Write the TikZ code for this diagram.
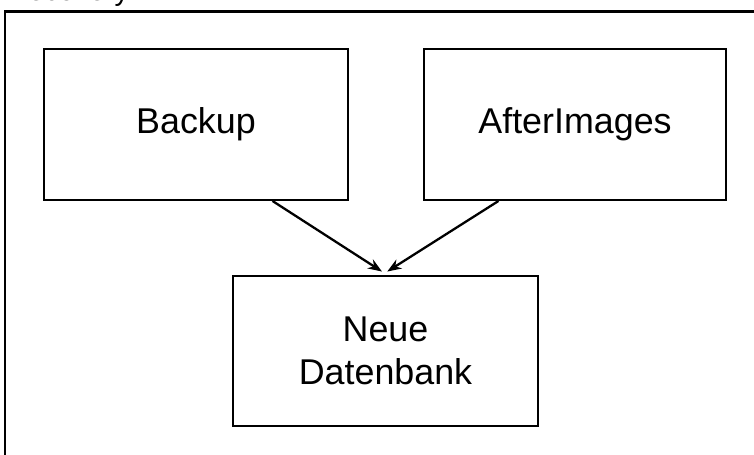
\documentclass[tikz,border=0pt]{standalone}
\usepackage{fontspec}
\setmainfont{Liberation Sans}
\usetikzlibrary{arrows.meta}

\tikzset{
    dbbox/.style={draw=black, line width=1.1pt, fill=white, align=center,
        font=\fontsize{20.4}{24.6}\selectfont},
    flow/.style={-{Stealth[length=8pt,width=6pt]}, line width=1.3pt}
}

\begin{document}
\begin{tikzpicture}[x=0.02cm, y=-0.02cm]
            \useasboundingbox (0,0) rectangle (754,455);
            \clip (0,0) rectangle (754,455);

            % heading, mostly cut off at the top
            \node[anchor=base west, inner sep=0pt, font=\fontsize{16.4}{19}\selectfont] (title) at (7,1) {Recovery};

            % outer frame
            \draw[black, line width=1.7pt] (5,500) -- (5,12) -- (800,12);

            \node[dbbox, minimum width=6.08cm, minimum height=3.02cm] (backup) at (196,124.5) {Backup};
            \node[dbbox, minimum width=6.04cm, minimum height=3.02cm] (afterimg) at (575,124.5) {AfterImages};
            \node[dbbox, minimum width=6.10cm, minimum height=3.0cm] (newdb) at (385.5,351) {Neue\\Datenbank};

            \draw[flow] (backup.-45) -- ([xshift=-2pt, yshift=2pt]newdb.north);
            \draw[flow] (afterimg.-135) -- ([xshift=1pt, yshift=2pt]newdb.north);
        \end{tikzpicture}
\end{document}
